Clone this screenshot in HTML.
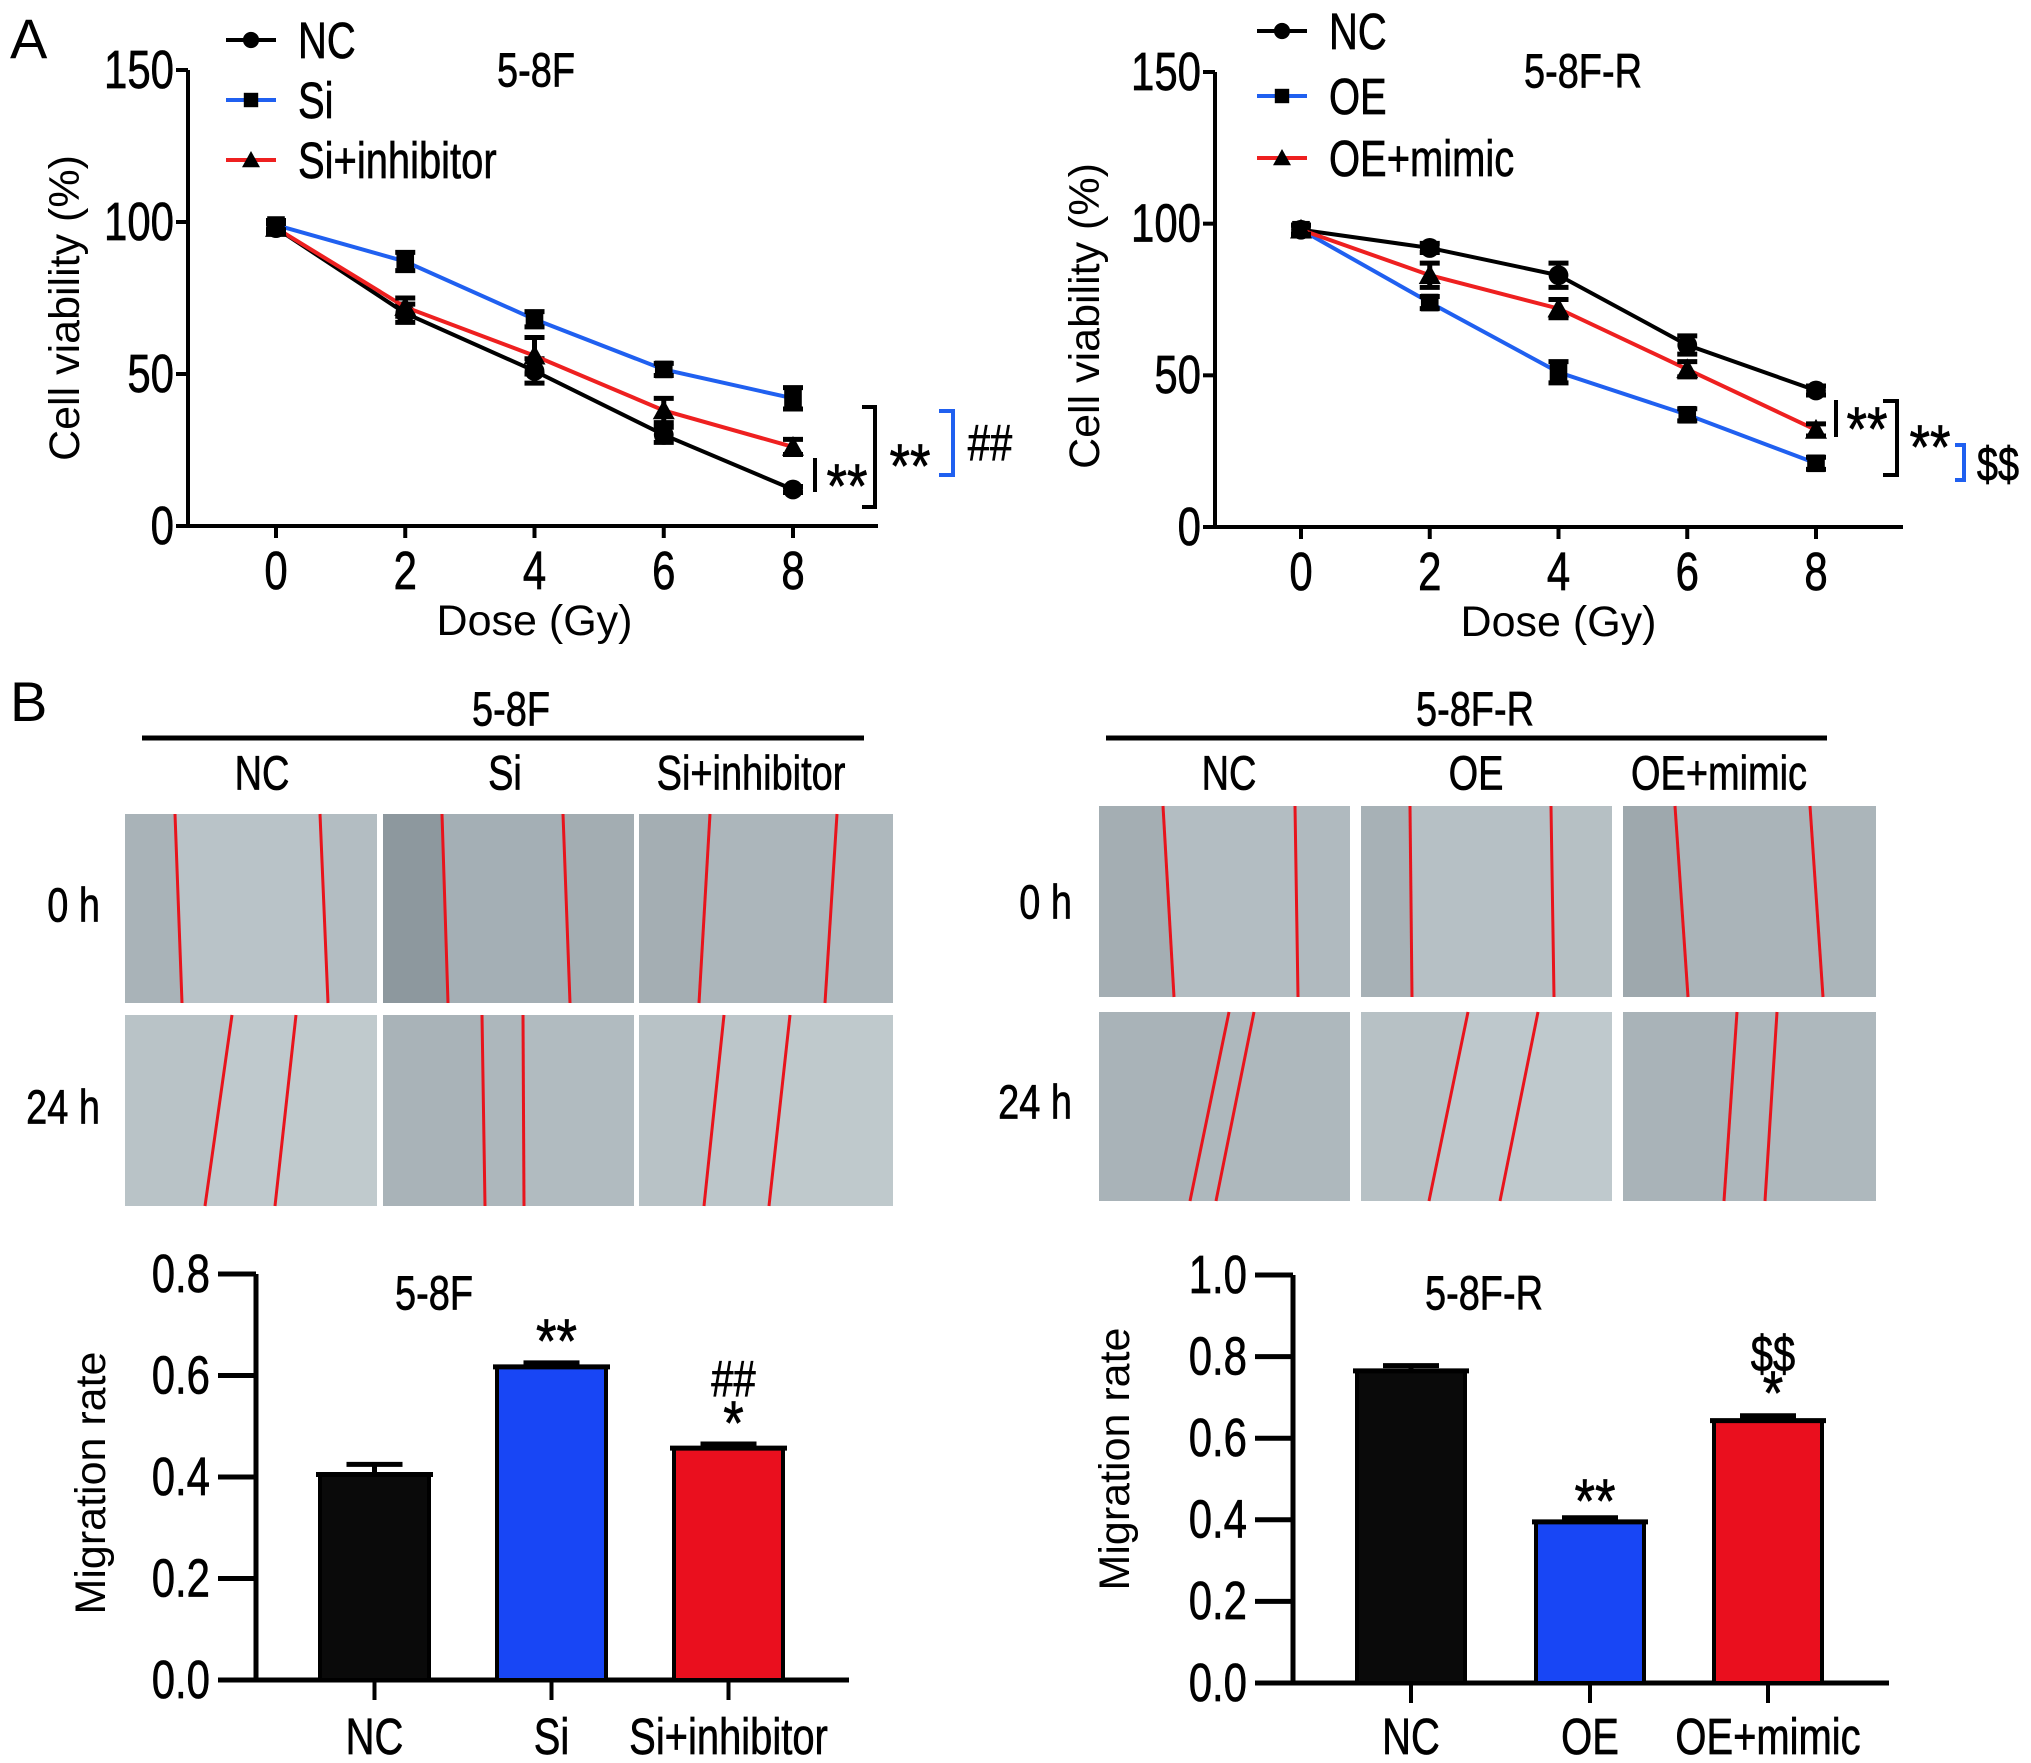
<!DOCTYPE html>
<html><head><meta charset="utf-8"><style>
html,body{margin:0;padding:0;background:#fff;}
svg{display:block;}
text{font-family:"Liberation Sans",sans-serif;fill:#000;}
.n{stroke:#000;stroke-width:0.7;}
</style></head><body>
<svg id="fig" width="2031" height="1763" viewBox="0 0 2031 1763" xmlns="http://www.w3.org/2000/svg">
<g id="static">
<text x="10" y="58" font-size="56">A</text>
<text x="10" y="721" font-size="56">B</text>
</g>
<g id="layer"></g>
</svg>
<script>
// ===== Chart data =====
const doses = [0, 2, 4, 6, 8];
const leftNC = [98, 70, 51, 30, 12];
const leftSi = [99, 87, 68, 51.5, 42];
const leftSiInh = [98, 72, 56, 38, 26];
const leftErrNC = [1.5, 3, 4, 2.5, 1];
const leftErrSi = [1.5, 3, 2.5, 2, 3.5];
const leftErrSiInh = [1.5, 3, 6, 4, 2.5];
const rightNC = [98, 92, 83, 60, 45];
const rightOE = [98, 74, 51, 37, 21];
const rightOEmimic = [98, 83, 72, 52, 32];
const rightErrNC = [1.5, 1.5, 4, 3, 1.5];
const rightErrOE = [1.5, 2, 3.5, 2, 2];
const rightErrOEmimic = [1.5, 4, 3, 2.5, 2];
const viabilityTicks = [0, 50, 100, 150];
const leftBarCats = ["NC", "Si", "Si+inhibitor"];
const leftBarVals = [0.405, 0.617, 0.457];
const leftBarErr = [0.02, 0.008, 0.008];
const leftBarTicks = ["0.0", "0.2", "0.4", "0.6", "0.8"];
const rightBarCats = ["NC", "OE", "OE+mimic"];
const rightBarVals = [0.765, 0.395, 0.643];
const rightBarErr = [0.013, 0.01, 0.012];
const rightBarTicks = ["0.0", "0.2", "0.4", "0.6", "0.8", "1.0"];

const NS = "http://www.w3.org/2000/svg";
const L = document.getElementById('layer');
function mk(tag, attrs, parent) {
  const e = document.createElementNS(NS, tag);
  for (const k in attrs) e.setAttribute(k, attrs[k]);
  (parent || L).appendChild(e);
  return e;
}
function txt(x, y, s, size, anchor, extra) {
  const e = mk('text', Object.assign({x: 0, y: 0, 'font-size': size * 1.28, 'text-anchor': anchor || 'start', 'dominant-baseline': 'central', class: 'n', transform: `translate(${x},${y}) scale(0.78,1)`}, extra || {}));
  e.textContent = s;
  return e;
}
function rtxt(x, y, s, size, rot) {
  const e = mk('text', {x: 0, y: 0, 'font-size': size, 'text-anchor': 'middle', 'dominant-baseline': 'central', transform: `translate(${x},${y})` + (rot ? ' rotate(-90)' : '')});
  e.textContent = s;
  return e;
}
// asterisks: larger glyphs, shifted down because '*' sits high
function star(x, y, s, size) {
  const e = mk('text', {x: 0, y: 0, 'font-size': size || 62, 'text-anchor': 'middle', 'dominant-baseline': 'central', class: 'n', transform: `translate(${x},${y + 10}) scale(0.85,1)`});
  e.textContent = s;
  
  
  return e;
}
function marker(shape, x, y, s) {
  let e;
  if (shape === 'circle') e = mk('circle', {cx: x, cy: y, r: 9 * s, fill: '#000'});
  else if (shape === 'square') e = mk('rect', {x: x - 8 * s, y: y - 8 * s, width: 16 * s, height: 16 * s, fill: '#000'});
  else e = mk('polygon', {points: `${x},${y - 10 * s} ${x - 10 * s},${y + 8 * s} ${x + 10 * s},${y + 8 * s}`, fill: '#000'});
  return e;
}

// ===== Line charts =====
function lineChart(c) {
  const xs = d => c.x0 + (d - 0) / 8 * (c.x8 - c.x0);
  const ys = v => c.yb + (v - 0) / 150 * (c.yt - c.yb);
  const ax = mk('path', {d: `M${c.ax},${c.yt} V${c.yb} H${c.xend}`, stroke: '#000', 'stroke-width': 4, fill: 'none'});
  
  
  viabilityTicks.forEach(t => {
    mk('line', {x1: c.ax - 12, x2: c.ax, y1: ys(t), y2: ys(t), stroke: '#000', 'stroke-width': 4});
    const tl = txt(c.ax - 14, ys(t), String(t), 42, 'end');
    
    
  });
  doses.forEach(d => {
    mk('line', {x1: xs(d), x2: xs(d), y1: c.yb, y2: c.yb + 12, stroke: '#000', 'stroke-width': 4});
    const tl = txt(xs(d), c.yb + 45, String(d), 42, 'middle');
    
    
  });
  const xt = rtxt((c.x0 + c.x8) / 2, c.yb + 95, 'Dose (Gy)', 43, false);
  
  
  const yt = rtxt(c.ylx, c.yly, 'Cell viability (%)', 43, true);
  
  
  const ti = txt(c.titleX, c.titleY, c.title, 38, 'middle');
  
  
  c.series.forEach((s, si) => {
    const g = mk('g', {});
    
    
    const pts = doses.map((d, i) => xs(d) + ',' + ys(s.vals[i])).join(' ');
    mk('polyline', {points: pts, stroke: s.color, 'stroke-width': 4, fill: 'none'}, g);
    doses.forEach((d, i) => {
      const x = xs(d), y1 = ys(s.vals[i] + s.err[i]), y2 = ys(s.vals[i] - s.err[i]);
      mk('path', {d: `M${x},${y1} V${y2} M${x - 10},${y1} H${x + 10} M${x - 10},${y2} H${x + 10}`, stroke: '#000', 'stroke-width': 5, fill: 'none'}, g);
      g.appendChild(marker(s.shape, x, ys(s.vals[i]), 1.1));
    });
    const ly = c.legY[si];
    const lg = mk('g', {});
    
    
    mk('line', {x1: c.legX, x2: c.legX + 50, y1: ly, y2: ly, stroke: s.color, 'stroke-width': 4}, lg);
    lg.appendChild(marker(s.shape, c.legX + 25, ly, 0.9));
    lg.appendChild(txt(c.legX + 72, ly, s.name, 40, 'start'));
  });
}
lineChart({id: 'viability-5-8f', ax: 188, yt: 70, yb: 526, x0: 276, x8: 793, xend: 878, ylx: 65, yly: 308,
  title: '5-8F', titleX: 536, titleY: 71, legX: 226, legY: [40, 100, 160],
  series: [{name: 'NC', vals: leftNC, err: leftErrNC, color: '#000', shape: 'circle'},
           {name: 'Si', vals: leftSi, err: leftErrSi, color: '#2060f0', shape: 'square'},
           {name: 'Si+inhibitor', vals: leftSiInh, err: leftErrSiInh, color: '#ee2020', shape: 'tri'}]});
lineChart({id: 'viability-5-8f-r', ax: 1215, yt: 72, yb: 527, x0: 1301, x8: 1816, xend: 1903, ylx: 1085, yly: 316,
  title: '5-8F-R', titleX: 1583, titleY: 72, legX: 1257, legY: [31, 96, 158],
  series: [{name: 'NC', vals: rightNC, err: rightErrNC, color: '#000', shape: 'circle'},
           {name: 'OE', vals: rightOE, err: rightErrOE, color: '#2060f0', shape: 'square'},
           {name: 'OE+mimic', vals: rightOEmimic, err: rightErrOEmimic, color: '#ee2020', shape: 'tri'}]});

function sig(d, color, name) {
  const p = mk('path', {d: d, stroke: color, 'stroke-width': 4, fill: 'none'});
  
  
}
sig('M815,458 V492', '#000', 'sig-line-small');
sig('M862,407 H875 V507 H862', '#000', 'sig-bracket');
sig('M939,411 H953 V475 H939', '#2060f0', 'sig-bracket-blue');
star(847, 477, '**');
star(910, 457, '**');
txt(990, 442, '##', 40, 'middle');
sig('M1836,400 V437', '#000', 'sig-line-small-r');
sig('M1883,401 H1897 V475 H1883', '#000', 'sig-bracket-r');
sig('M1955,445 H1964 V480 H1955', '#2060f0', 'sig-bracket-blue-r');
star(1867, 420, '**');
star(1930, 438, '**');
txt(1998, 465, '$$', 38, 'middle');

// ===== Scratch images =====
function panel(title, tx, lineX1, lineX2, labels, labelX, cols, rows, rowLabelX, rowLabelY, redLines, tones) {
  const t = txt(tx, 710, title, 38, 'middle');
  
  
  mk('line', {x1: lineX1, x2: lineX2, y1: 738, y2: 738, stroke: '#000', 'stroke-width': 5});
  labels.forEach((s, i) => {
    const e = txt(labelX[i], 774, s, 38, 'middle');
    
    
  });
  ['0 h', '24 h'].forEach((s, i) => {
    const e = txt(rowLabelX, rowLabelY[i], s, 38, 'end');
    
    
  });
  rows.forEach((r, ri) => cols.forEach((c, ci) => {
    const g = mk('g', {});
    
    
    const tone = tones[ri][ci];
    mk('rect', {x: c[0], y: r[0], width: c[1] - c[0], height: r[1] - r[0], fill: tone[1]}, g);
    const rl = redLines[ri][ci];
    mk('polygon', {points: `${c[0]},${r[0]} ${rl[0]},${r[0]} ${rl[1]},${r[1]} ${c[0]},${r[1]}`, fill: tone[0]}, g);
    mk('polygon', {points: `${rl[2]},${r[0]} ${c[1]},${r[0]} ${c[1]},${r[1]} ${rl[3]},${r[1]}`, fill: tone[2]}, g);
    mk('line', {x1: rl[0], y1: r[0], x2: rl[1], y2: r[1], stroke: '#e8141c', 'stroke-width': 3}, g);
    mk('line', {x1: rl[2], y1: r[0], x2: rl[3], y2: r[1], stroke: '#e8141c', 'stroke-width': 3}, g);
  }));
}
panel('5-8F', 511, 142, 864, ['NC', 'Si', 'Si+inhibitor'], [262, 505, 751],
  [[125, 377], [383, 634], [639, 893]], [[814, 1003], [1015, 1206]], 100, [906, 1108],
  [[[175, 182, 320, 328], [442, 448, 563, 570], [710, 699, 837, 825]],
   [[232, 205, 296, 275], [482, 485, 523, 524], [724, 704, 790, 769]]],
  [[['#a9b3b8', '#b9c3c8', '#b3bdc2'], ['#8d989e', '#a4afb5', '#a3adb2'], ['#a4aeb3', '#acb6bb', '#aeb8bd']],
   [['#b9c3c7', '#bfc9cd', '#c0cacd'], ['#a9b3b8', '#adb7bc', '#b1bbc0'], ['#b8c2c6', '#bcc6ca', '#bfc9cc']]]);
panel('5-8F-R', 1475, 1106, 1827, ['NC', 'OE', 'OE+mimic'], [1229, 1476, 1719],
  [[1099, 1350], [1361, 1612], [1623, 1876]], [[806, 997], [1012, 1201]], 1072, [903, 1103],
  [[[1163, 1174, 1295, 1298], [1410, 1412, 1551, 1554], [1675, 1688, 1810, 1823]],
   [[1229, 1190, 1254, 1216], [1468, 1429, 1538, 1500], [1737, 1724, 1777, 1765]]],
  [[['#a4aeb3', '#b3bdc2', '#b0babf'], ['#a7b1b6', '#b6c0c5', '#b6c0c4'], ['#9ea8ad', '#aab4b9', '#abb5ba']],
   [['#a9b3b8', '#aeb8bd', '#aeb8bd'], ['#b7c1c5', '#bec8cc', '#bfc9cd'], ['#a9b3b8', '#adb7bc', '#aeb8bd']]]);

// ===== Bar charts =====
function barChart(c) {
  const ys = v => c.yb + v / c.ymax * (c.yt - c.yb);
  const ax = mk('path', {d: `M${c.ax},${c.yt} V${c.yb} M${c.xs},${c.yb} H${c.xe}`, stroke: '#000', 'stroke-width': 5, fill: 'none'});
  
  
  c.ticks.forEach(t => {
    const v = parseFloat(t);
    mk('line', {x1: c.ax - 38, x2: c.ax, y1: ys(v), y2: ys(v), stroke: '#000', 'stroke-width': 5});
    const e = txt(c.ax - 46, ys(v), t, 42, 'end');
    
    
  });
  const yt = rtxt(c.ylx, c.yly, 'Migration rate', 43, true);
  
  
  const ti = txt(c.titleX, 1294, c.title, 38, 'middle');
  
  
  c.cats.forEach((cat, i) => {
    const x = c.bx[i], w = c.bw, cx = x + w / 2;
    const bar = mk('rect', {x: x, y: ys(c.vals[i]), width: w, height: c.yb - ys(c.vals[i]), fill: c.colors[i], stroke: '#000', 'stroke-width': 4});
    
    
    const top = ys(c.vals[i] + c.err[i]);
    mk('path', {d: `M${x - 4},${ys(c.vals[i])} H${x + w + 4} M${cx},${ys(c.vals[i])} V${top} M${cx - 28},${top} H${cx + 28}`, stroke: '#000', 'stroke-width': 5, fill: 'none'});
    mk('line', {x1: cx, x2: cx, y1: c.yb, y2: c.yb + 20, stroke: '#000', 'stroke-width': 4});
    const lab = txt(cx, 1736, cat, 40, 'middle');
    
    
    (c.ann[i] || []).forEach(a => {
      if (a[0].indexOf('*') >= 0) star(cx + 5, a[1], a[0]);
      else txt(cx + 5, a[1], a[0], 40, 'middle');
    });
  });
}
barChart({id: 'migration-5-8f', ax: 256, yt: 1274, yb: 1680, xs: 219, xe: 849, ymax: 0.8, ticks: leftBarTicks,
  cats: leftBarCats, vals: leftBarVals, err: leftBarErr, bx: [320, 497, 674], bw: 109,
  colors: ['#0a0a0a', '#1846f5', '#ea0f1e'], ylx: 91, yly: 1483, title: '5-8F', titleX: 434,
  ann: [[], [['**', 1332]], [['##', 1378], ['*', 1414]]]});
barChart({id: 'migration-5-8f-r', ax: 1293, yt: 1275, yb: 1683, xs: 1256, xe: 1889, ymax: 1.0, ticks: rightBarTicks,
  cats: rightBarCats, vals: rightBarVals, err: rightBarErr, bx: [1357, 1536, 1714], bw: 108,
  colors: ['#0a0a0a', '#1846f5', '#ea0f1e'], ylx: 1115, yly: 1459, title: '5-8F-R', titleX: 1484,
  ann: [[], [['**', 1492]], [['$$', 1353], ['*', 1384]]]});
</script>
</body></html>
